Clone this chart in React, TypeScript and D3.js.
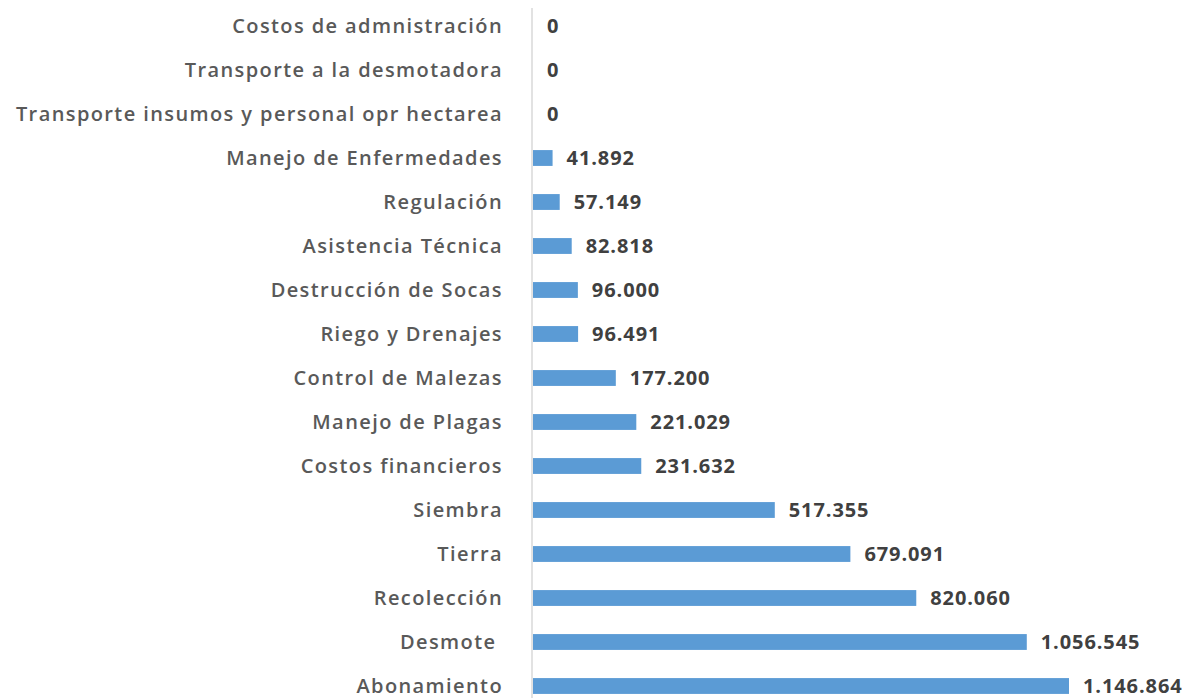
import React from 'react';
import * as d3 from 'd3';

const categories = [
  'Costos de admnistración',
  'Transporte a la desmotadora',
  'Transporte insumos y personal opr hectarea',
  'Manejo de Enfermedades',
  'Regulación',
  'Asistencia Técnica',
  'Destrucción de Socas',
  'Riego y Drenajes',
  'Control de Malezas',
  'Manejo de Plagas',
  'Costos financieros',
  'Siembra',
  'Tierra',
  'Recolección',
  'Desmote ',
  'Abonamiento',
];

const costs = [
  0, 0, 0, 41892, 57149, 82818, 96000, 96491, 177200, 221029, 231632, 517355,
  679091, 820060, 1056545, 1146864,
];

const width = 1191;
const height = 698;
const fontFamily = '"Open Sans", "DejaVu Sans", sans-serif';

const locale = d3.formatLocale({ decimal: ',', thousands: '.', grouping: [3], currency: ['$', ''] });
const fmt = locale.format(',d');

export default function App() {
  const x = d3.scaleLinear().domain([0, d3.max(costs) as number]).range([533, 1069]);
  const y = d3
    .scaleBand<string>()
    .domain(categories)
    .range([4, 708])
    .paddingInner(0.64)
    .paddingOuter(0.32);

  return (
    <svg
      width={width}
      height={height}
      style={{ position: 'absolute', left: 0, top: 0 }}
      fontFamily={fontFamily}
    >
      <rect width={width} height={height} fill="#ffffff" />
      <line x1={x(0) - 1} x2={x(0) - 1} y1={8} y2={height} stroke="#d9d9d9" strokeWidth={1.5} />
      {categories.map((c, i) => {
        const yc = (y(c) as number) + y.bandwidth() / 2;
        return (
          <g key={c}>
            <text
              x={503}
              y={yc}
              dy="0.35em"
              textAnchor="end"
              fontSize={20}
              fontWeight={600}
              letterSpacing={1.4}
              fill="#595959"
              style={{ whiteSpace: 'pre' }}
            >
              {c}
            </text>
            {costs[i] > 0 && (
              <rect
                x={x(0)}
                y={y(c)}
                width={x(costs[i]) - x(0)}
                height={y.bandwidth()}
                fill="#5b9bd5"
              />
            )}
            <text
              x={x(costs[i]) + 14}
              y={yc}
              dy="0.35em"
              fontSize={20}
              fontWeight={700}
              letterSpacing={0.9}
              fill="#404040"
            >
              {fmt(costs[i])}
            </text>
          </g>
        );
      })}
    </svg>
  );
}
